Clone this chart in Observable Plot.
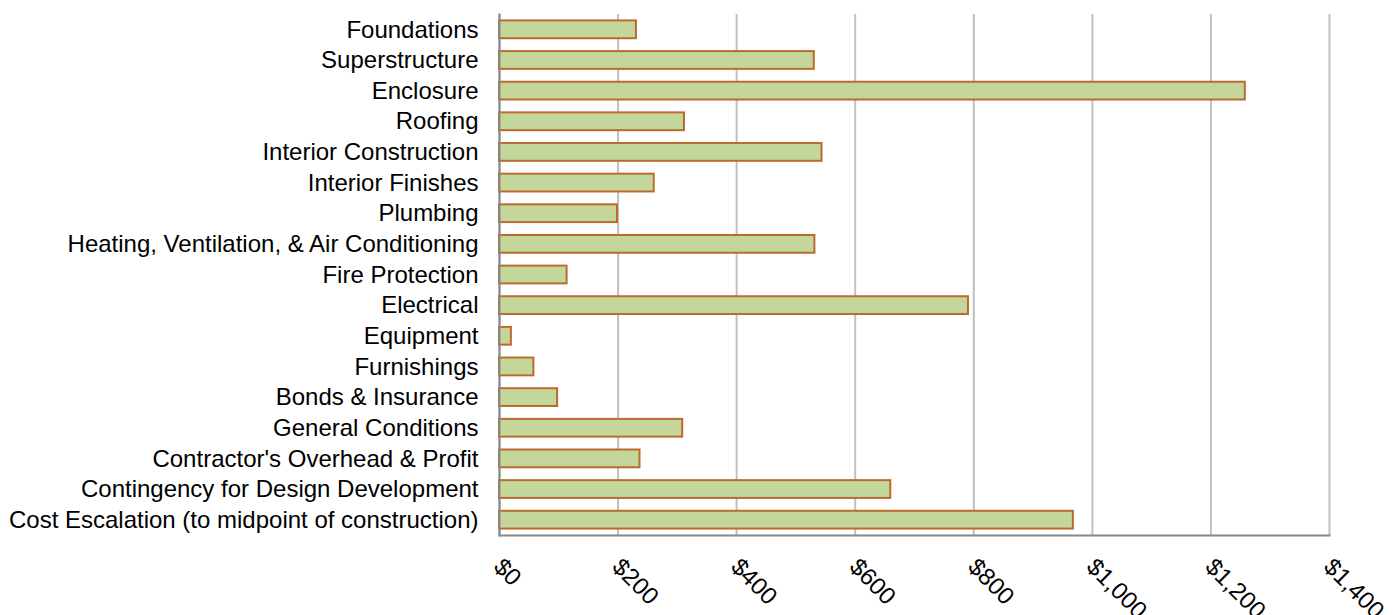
<!DOCTYPE html>
<html>
<head>
<meta charset="utf-8">
<script src="https://cdn.jsdelivr.net/npm/d3@7"></script>
<script src="https://cdn.jsdelivr.net/npm/@observablehq/plot@0.6"></script>
<style>
  html, body { margin: 0; padding: 0; background: #fff; }
  #chart svg { display: block; }
</style>
</head>
<body>
<div id="chart"></div>
<script>
const categories = [
  "Foundations",
  "Superstructure",
  "Enclosure",
  "Roofing",
  "Interior Construction",
  "Interior Finishes",
  "Plumbing",
  "Heating, Ventilation, & Air Conditioning",
  "Fire Protection",
  "Electrical",
  "Equipment",
  "Furnishings",
  "Bonds & Insurance",
  "General Conditions",
  "Contractor's Overhead & Profit",
  "Contingency for Design Development",
  "Cost Escalation (to midpoint of construction)"
];
const values = [231, 531, 1258, 312, 544, 261, 199, 532, 114, 791, 20, 58, 98, 309, 237, 660, 968];
const xTicks = [0, 200, 400, 600, 800, 1000, 1200, 1400];

const data = categories.map((name, i) => ({name, value: values[i]}));
const fmt = d => "$" + d3.format(",")(d);

const chart = Plot.plot({
  width: 1398,
  height: 615,
  marginLeft: 499,
  marginRight: 69,
  marginTop: 14,
  marginBottom: 80,
  style: {fontFamily: "'Liberation Sans', Arial, sans-serif", fontSize: "24px", color: "#000", background: "#fff"},
  x: {domain: [0, 1400]},
  y: {domain: categories, paddingInner: 0.42, paddingOuter: 0.21, round: false},
  marks: [
    Plot.gridX(xTicks, {stroke: "#c0c0c0", strokeOpacity: 1, strokeWidth: 2}),
    Plot.barX(data, {x: "value", y: "name", fill: "#c4d79b", stroke: "#bd6a2e", strokeWidth: 2}),
    Plot.frame({anchor: "left", stroke: "#888", strokeWidth: 2}),
    Plot.frame({anchor: "bottom", stroke: "#888", strokeWidth: 2}),
    Plot.axisY({tickSize: 0, tickPadding: 21, label: null, fontSize: 24}),
    Plot.axisX(xTicks, {tickSize: 0, tickRotate: 45, tickFormat: fmt, label: null, fontSize: 24, textAnchor: "start", lineAnchor: "bottom", dy: 21, dx: -7})
  ]
});
document.getElementById("chart").appendChild(chart);
</script>
</body>
</html>
